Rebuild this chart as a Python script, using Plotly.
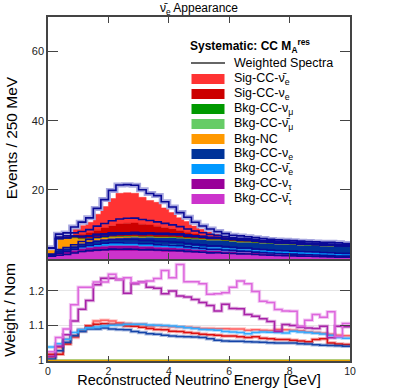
import numpy as np
import plotly.graph_objects as go

# --- data: 40 bins of 250 MeV, 0-10 GeV ---
bin_edges = np.linspace(0, 10, 41)

# nominal spectra (events / 250 MeV), stacking order bottom -> top
bkg_nutaubar = [0.8,1.0,1.2,1.5,1.8,2.0,2.1,2.2,2.3,2.3,2.3,2.3,2.2,2.2,2.1,2.0,2.0,1.9,1.8,1.7,
                1.6,1.5,1.5,1.4,1.3,1.2,1.2,1.1,1.0,0.95,0.9,0.85,0.8,0.75,0.7,0.65,0.6,0.55,0.5,0.45]
bkg_nutau = [0.3,0.6,0.8,1.0,1.2,1.3,1.4,1.5,1.5,1.5,1.5,1.5,1.4,1.4,1.3,1.3,1.2,1.2,1.1,1.0,
             1.0,0.9,0.9,0.8,0.8,0.7,0.7,0.6,0.6,0.55,0.5,0.5,0.45,0.45,0.4,0.4,0.35,0.35,0.3,0.3]
bkg_nuebar = [0.1,0.3,0.4,0.5,0.6,0.7,0.8,0.8,0.85,0.9,0.9,0.9,0.9,0.9,0.9,0.9,0.9,0.9,0.9,0.9,
              0.9,0.9,0.9,0.9,0.85,0.85,0.85,0.85,0.85,0.8,0.8,0.8,0.8,0.8,0.8,0.8,0.75,0.75,0.75,0.75]
bkg_nue = [0.2,0.7,0.7,0.7,0.8,0.9,1.0,1.1,1.2,1.3,1.4,1.5,1.6,1.7,1.8,1.9,2.0,2.0,2.0,2.1,
           2.1,2.1,2.1,2.1,2.1,2.1,2.1,2.1,2.1,2.1,2.1,2.1,2.1,2.0,2.0,2.0,2.0,2.0,2.0,2.0]
bkg_nc = [1.7,3.2,2.8,2.4,1.4,1.0,0.8,0.6,0.5,0.45,0.4,0.35,0.3,0.3,0.25,0.25,0.2,0.2,0.2,0.2,
          0.15,0.15,0.15,0.15,0.15,0.1,0.1,0.1,0.1,0.1,0.1,0.1,0.1,0.1,0.1,0.1,0.1,0.1,0.1,0.1]
bkg_numubar = [0.0,0.01,0.02,0.02,0.02,0.02,0.02,0.02,0.02,0.02,0.02,0.02,0.02,0.01,0.01,0.01,0.01,0.01,0.01,0.01,
               0.01,0.01,0.01,0.01,0.01,0.01,0.01,0.01,0.01,0.01,0.01,0.01,0.01,0.01,0.01,0.01,0.01,0.01,0.01,0.01]
bkg_numu = [0.0,0.02,0.03,0.03,0.03,0.03,0.03,0.03,0.03,0.03,0.03,0.03,0.02,0.02,0.02,0.02,0.02,0.02,0.02,0.02,
            0.02,0.02,0.02,0.02,0.02,0.02,0.02,0.02,0.02,0.02,0.02,0.02,0.02,0.02,0.02,0.02,0.02,0.02,0.02,0.02]
sig_nue = [0.05,0.4,0.5,0.9,1.3,1.6,2.2,2.7,3.2,3.6,3.8,3.8,3.6,3.3,3.1,2.7,2.4,2.0,1.7,1.3,
           1.0,0.85,0.6,0.5,0.4,0.4,0.35,0.35,0.3,0.3,0.3,0.3,0.3,0.3,0.3,0.3,0.3,0.3,0.3,0.25]
sig_nuebar = [0.05,0.8,0.8,1.6,2.5,3.1,4.6,6.2,7.9,8.9,8.8,8.6,7.8,7.1,6.9,5.7,4.7,3.7,3.1,2.3,
              1.8,1.4,1.0,0.75,0.6,0.65,0.5,0.5,0.45,0.4,0.4,0.35,0.35,0.4,0.4,0.35,0.4,0.45,0.45,0.35]

# weight / nominal ratios
r_nutaubar = [1.025,1.066,1.09,1.16,1.21,1.21,1.225,1.225,1.247,1.232,1.237,1.223,1.224,1.228,1.235,1.258,1.237,1.275,1.226,1.226,
              1.22,1.19,1.191,1.194,1.21,1.228,1.22,1.198,1.17,1.166,1.146,1.142,1.141,1.098,1.115,1.132,1.124,1.14,1.069,1.106]
r_nutau = [1.012,1.041,1.074,1.113,1.147,1.172,1.217,1.236,1.236,1.232,1.193,1.22,1.225,1.21,1.207,1.191,1.199,1.185,1.182,1.175,
           1.166,1.158,1.142,1.161,1.149,1.148,1.132,1.127,1.12,1.112,1.084,1.103,1.1,1.095,1.093,1.092,1.098,1.065,1.098,1.097]
r_bkg_nuebar = [1.039,1.048,1.061,1.08,1.089,1.094,1.096,1.099,1.101,1.102,1.104,1.104,1.104,1.102,1.101,1.1,1.099,1.097,1.094,1.092,
                1.089,1.088,1.087,1.083,1.082,1.08,1.077,1.08,1.082,1.081,1.08,1.079,1.084,1.082,1.08,1.078,1.076,1.072,1.066,1.064]
r_bkg_nue = [1.004,1.028,1.052,1.071,1.083,1.09,1.09,1.093,1.09,1.089,1.088,1.083,1.08,1.077,1.075,1.072,1.07,1.069,1.068,1.067,
             1.066,1.062,1.058,1.056,1.055,1.055,1.054,1.053,1.052,1.051,1.05,1.05,1.05,1.048,1.047,1.045,1.044,1.043,1.042,1.041]
r_nc = [1.0,1.0,1.0,1.0,1.0,1.0,1.0,1.0,1.0,1.0,1.0,1.0,1.0,1.0,1.0,1.0,1.0,1.0,1.0,1.0,
        1.0,1.0,1.0,1.0,1.0,1.0,1.0,1.0,1.0,1.0,1.0,1.0,1.0,1.0,1.0,1.0,1.0,1.0,1.0,1.0]
r_numubar = r_nc
r_numu = r_nc
r_sig_nue = [1.018,1.018,1.047,1.071,1.085,1.099,1.104,1.105,1.104,1.103,1.099,1.098,1.095,1.092,1.089,1.088,1.084,1.083,1.08,1.078,
             1.075,1.074,1.072,1.07,1.07,1.068,1.066,1.068,1.064,1.062,1.06,1.06,1.058,1.056,1.054,1.06,1.062,1.05,1.047,1.046]
r_sig_nuebar = [1.009,1.037,1.061,1.066,1.089,1.099,1.113,1.115,1.113,1.108,1.106,1.104,1.104,1.099,1.1,1.098,1.097,1.096,1.095,1.094,
                1.092,1.092,1.091,1.091,1.09,1.09,1.087,1.088,1.087,1.086,1.089,1.088,1.087,1.085,1.082,1.08,1.078,1.075,1.072,1.071]

NB = "\u03bd\u0304"  # nu-bar
# (label, nominal, ratio, fill colour, ratio line colour) bottom -> top
components = [
    (f"Bkg-CC-{NB}<sub>τ</sub>", bkg_nutaubar, r_nutaubar, "#CC33CC", "#DD66DD"),
    ("Bkg-CC-ν<sub>τ</sub>", bkg_nutau, r_nutau, "#990099", "#A822A8"),
    (f"Bkg-CC-{NB}<sub>e</sub>", bkg_nuebar, r_bkg_nuebar, "#0099FF", "#33AAFF"),
    ("Bkg-CC-ν<sub>e</sub>", bkg_nue, r_bkg_nue, "#003399", "#1444A8"),
    ("Bkg-NC", bkg_nc, r_nc, "#FF9900", "#E8A000"),
    (f"Bkg-CC-{NB}<sub>μ</sub>", bkg_numubar, r_numubar, "#66CC66", "#66CC66"),
    ("Bkg-CC-ν<sub>μ</sub>", bkg_numu, r_numu, "#009900", "#009900"),
    ("Sig-CC-ν<sub>e</sub>", sig_nue, r_sig_nue, "#CC0000", "#DD1111"),
    (f"Sig-CC-{NB}<sub>e</sub>", sig_nuebar, r_sig_nuebar, "#FF3333", "#FF6060"),
]

def step(vals):
    return bin_edges, list(vals) + [vals[-1]]

fig = go.Figure()

# --- top panel: nominal stack ---
nom_cum = np.zeros(40)
w_cum = np.zeros(40)
w_levels = []
for k, (name, nom, rat, fcol, lcol) in enumerate(components):
    nom_cum = nom_cum + np.array(nom)
    w_cum = w_cum + np.array(nom) * np.array(rat)
    w_levels.append(w_cum.copy())
    x, y = step(nom_cum)
    fig.add_trace(go.Scatter(x=x, y=y, mode="lines", line=dict(shape="hv", width=0.5, color=fcol),
                             fill="tozeroy" if k == 0 else "tonexty", fillcolor=fcol,
                             xaxis="x2", yaxis="y2", showlegend=False, hoverinfo="skip"))

# weighted spectra outlines
x, y = step(w_levels[-1])
fig.add_trace(go.Scatter(x=x, y=y, mode="lines", line=dict(shape="hv", width=5, color="#A8A8E0"),
                         xaxis="x2", yaxis="y2", showlegend=False, hoverinfo="skip"))
for lev in w_levels:
    x, y = step(lev)
    fig.add_trace(go.Scatter(x=x, y=y, mode="lines", line=dict(shape="hv", width=1.6, color="#0A0A96"),
                             xaxis="x2", yaxis="y2", showlegend=False, hoverinfo="skip"))

# --- bottom panel: ratios (NC flat line drawn last, on top) ---
ratio_order = components[5:7] + components[::-1][0:2] + components[0:4][::-1] + [components[4]]
for name, nom, rat, fcol, lcol in ratio_order:
    x, y = step(rat)
    if rat is not r_nc:
        fig.add_trace(go.Scatter(x=x, y=y, mode="lines", line=dict(shape="hv", width=3.5, color=lcol),
                                 opacity=0.35, showlegend=False, hoverinfo="skip"))
    fig.add_trace(go.Scatter(x=x, y=y, mode="lines", line=dict(shape="hv", width=1.5, color=lcol),
                             showlegend=False, hoverinfo="skip"))

# --- manual ROOT-style legend ---
L, R, T, B = 48, 350, 17, 361
def px(v):
    return (v - L) / (R - L)
def py(v):
    return (B - v) / (B - T)

shapes = []
annotations = []
FONT = "Liberation Sans, Arial, sans-serif"
annotations.append(dict(x=px(188), y=py(46), xref="paper", yref="paper", xanchor="left", yanchor="middle",
                        text="<b>Systematic: CC M<sub>A</sub><sup>res</sup></b>", showarrow=False,
                        font=dict(size=12, color="black", family=FONT)))
shapes.append(dict(type="line", xref="paper", yref="paper", x0=px(191), x1=px(225), y0=py(63), y1=py(63),
                   line=dict(color="#333333", width=1.5)))
annotations.append(dict(x=px(232), y=py(63), xref="paper", yref="paper", xanchor="left", yanchor="middle",
                        text="Weighted Spectra", showarrow=False, font=dict(size=12.5, color="black", family=FONT)))
for i, (name, nom, rat, fcol, lcol) in enumerate(components[::-1]):
    yc = 79 + 15 * i
    shapes.append(dict(type="rect", xref="paper", yref="paper", x0=px(191), x1=px(225),
                       y0=py(yc + 5.5), y1=py(yc - 5.5), fillcolor=fcol, line=dict(color="white", width=1)))
    annotations.append(dict(x=px(232), y=py(yc), xref="paper", yref="paper", xanchor="left", yanchor="middle",
                            text=name, showarrow=False, font=dict(size=12.5, color="black", family=FONT)))

split = (B - 259) / (B - T)
frame = dict(showline=True, linecolor="#444444", linewidth=1.5, mirror="ticks", zeroline=False,
             automargin=False)

fig.update_layout(
    width=399, height=388,
    margin=dict(l=L, r=399 - R, t=T, b=388 - B, autoexpand=False),
    paper_bgcolor="white", plot_bgcolor="white",
    font=dict(family=FONT, color="#222222"),
    title=dict(text=f"{NB}<sub>e</sub> Appearance", x=0.5, xref="paper", y=1 - 8 / 388, yanchor="middle",
               font=dict(size=12, color="black")),
    showlegend=False,
    xaxis=dict(domain=[0, 1], anchor="y", range=[0, 10], tickvals=[0, 2, 4, 6, 8, 10],
               ticks="inside", ticklen=5, tickcolor="#444444", showgrid=False, **frame,
               tickfont=dict(size=10.5),
               title=dict(text="Reconstructed Neutrino Energy [GeV]", font=dict(size=14.5, color="black"), standoff=1)),
    yaxis=dict(domain=[0, split], anchor="x", range=[0.9985, 1.291], tickvals=[1, 1.1, 1.2],
               ticktext=["1", "1.1", "1.2"], ticks="inside", ticklen=10, tickcolor="#444444",
               showgrid=True, gridcolor="#E6E6E6", gridwidth=1, **frame, tickfont=dict(size=11),
               title=dict(text="Weight / Nom", font=dict(size=15.5, color="black"), standoff=9)),
    xaxis2=dict(domain=[0, 1], anchor="y2", range=[0, 10], matches="x", tickvals=[2, 4, 6, 8],
                side="top", ticks="inside", ticklen=6, tickcolor="#444444", showticklabels=False,
                showgrid=False, **frame),
    yaxis2=dict(domain=[split, 1], anchor="x2", range=[0, 70], tickvals=[20, 40, 60],
                ticks="inside", ticklen=10, tickcolor="#444444", showgrid=False, **frame,
                tickfont=dict(size=11),
                title=dict(text="Events / 250 MeV", font=dict(size=15.5, color="black"), standoff=10)),
    shapes=shapes, annotations=annotations,
)

# page body margin off so the figure sits at the window origin
fig.write_html("out.html", config={"displayModeBar": False},
               post_script="document.body.style.margin='0px';")
